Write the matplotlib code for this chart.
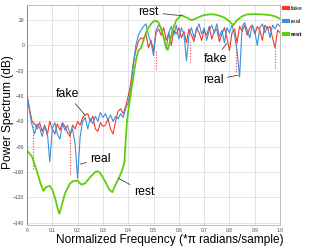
import matplotlib
matplotlib.use("Agg")
import matplotlib.pyplot as plt
import numpy as np

# frequency grid for the fake / real spectra (*pi rad/sample)
freq = np.arange(101) / 100.0

fake_db = [
    -39, -50, -60, -62, -66, -61, -68, -63, -71, -60,
    -66, -70, -62, -67, -61, -64, -69, -72, -63, -66,
    -60, -63, -57, -55, -54, -60, -56, -66, -68, -61,
    -64, -63, -58, -66, -70, -60, -52, -50, -54, -48,
    -40, -30, -14, -4, 3, 6, 5, 9, -2, 4,
    -4, 10, 13, 8, 14, 4, 10, 0, 12, 9,
    14, 6, 11, 2, 13, 8, 3, 14, 10, 4,
    12, 8, 15, 5, 11, 13, 3, 9, 14, 6,
    -4, 10, 13, 2, 15, 11, 16, 8, 14, 16,
    9, 15, 12, 4, 16, 13, 15, 6, -2, 12,
    10,
]

real_db = [
    -39, -52, -63, -70, -62, -65, -72, -64, -68, -92,
    -66, -61, -70, -74, -62, -67, -63, -70, -66, -78,
    -105, -72, -60, -57, -66, -58, -62, -56, -60, -53,
    -57, -54, -59, -55, -60, -56, -58, -54, -57, -50,
    -45, -35, -15, 0, 8, 12, 15, 17, 8, 2,
    -8, 12, 16, 14, 6, -3, 10, 15, 8, 16,
    5, 14, 9, -12, 8, 14, 6, 12, 17, 9,
    14, 4, 12, 16, 10, 17, 7, 12, 2, 14,
    10, 16, 8, -4, -25, 15, 18, 12, 6, 16,
    11, 0, 14, 17, 10, 15, 6, 16, 13, 17,
    15,
]

# deep nulls of the fake spectrum (drawn dotted)
null_x = [0.022, 0.168, 0.511, 0.645, 0.827, 0.979]
null_hi = [-62, -72, -4, 3, 2, -2]
null_lo = [-98, -102, -19, -13, -21, -18]

rest_x = [0, 0.02, 0.04, 0.055, 0.065, 0.075, 0.09, 0.10, 0.11, 0.12,
          0.128, 0.135, 0.15, 0.17, 0.185, 0.20, 0.215, 0.23, 0.25, 0.27,
          0.28, 0.29, 0.31, 0.325, 0.337, 0.35, 0.365, 0.375, 0.38, 0.385,
          0.39, 0.395, 0.40, 0.41, 0.42, 0.43, 0.44, 0.45, 0.46, 0.47,
          0.48, 0.49, 0.50, 0.51, 0.52, 0.53, 0.54, 0.55, 0.556, 0.565,
          0.575, 0.59, 0.61, 0.63, 0.65, 0.665, 0.68, 0.70, 0.72, 0.74,
          0.76, 0.78, 0.80, 0.815, 0.83, 0.85, 0.87, 0.90, 0.93, 0.96,
          0.98, 1.00]
rest_db = [-83, -88, -100, -110, -115, -112, -111, -114, -120, -128,
           -133, -128, -117, -109, -107, -107, -110, -109, -104, -100,
           -99.5, -101, -108, -114, -116, -110, -104, -99, -96, -92,
           -75, -60, -52, -38, -25, -12, -4, -2, 4, 10,
           14, 17, 19, 19.5, 18, 13, 6, -1, -3.5, 3,
           12, 20, 24, 22, 20, 21, 22.5, 24, 24.5, 24.5,
           23.5, 22, 19, 16, 20, 23, 24.5, 24.7, 24.5, 24,
           23, 21]

x_ticks = [0, 0.1, 0.2, 0.3, 0.4, 0.5, 0.6, 0.7, 0.8, 0.9, 1.0]
x_labels = ["0", "0.1", "0.2", "0.3", "0.4", "0.5", "0.6", "0.7", "0.8", "0.9", "1.0"]
y_ticks = [20, 0, -20, -40, -60, -80, -100, -120, -140]

RED = "#f5372a"
BLUE = "#3d8fd9"
GREEN = "#62cc0c"


def main():
    plt.rcParams["font.family"] = ["Liberation Sans", "DejaVu Sans"]
    fig = plt.figure(figsize=(3.14, 2.46), dpi=100)
    ax = fig.add_axes([0.086, 0.085, 0.806, 0.895])

    ax.plot(freq, fake_db, color=RED, lw=0.8, label="fake")
    ax.vlines(null_x, null_lo, null_hi, colors=RED, lw=0.8, linestyles=(0, (1, 1.5)))
    ax.plot(freq, real_db, color=BLUE, lw=0.8, label="real")
    ax.plot(rest_x, rest_db, color=GREEN, lw=1.3, label="rest")

    ax.set_xlim(0, 1.0)
    ax.set_ylim(-142, 32)
    ax.set_xticks(x_ticks)
    ax.set_xticklabels(x_labels)
    ax.set_yticks(y_ticks)
    ax.tick_params(labelsize=3.5, colors="#444444", length=0, pad=2)
    ax.grid(color="#dedede", lw=0.6)
    ax.set_axisbelow(True)
    for s in ax.spines.values():
        s.set_color("#bbbbbb")
        s.set_linewidth(0.7)
    ax.spines["left"].set_color("#888888")

    arrow = dict(arrowstyle="-", color="#444444", lw=0.6, shrinkA=1, shrinkB=0)
    notes = [
        ("rest", (0.61, 23.5), (0.481, 26.2)),
        ("fake", (0.229, -55), (0.158, -38.3)),
        ("real", (0.21, -93.8), (0.292, -89.8)),
        ("rest", (0.361, -105), (0.463, -116)),
        ("fake", (0.789, 1.6), (0.743, -11)),
        ("real", (0.835, -23.5), (0.735, -27.4)),
    ]
    for txt, xy, xytext in notes:
        ax.annotate(txt, xy=xy, xytext=xytext, fontsize=8.8, ha="center", va="center",
                    arrowprops=arrow)

    leg = fig.legend(handles=list(ax.get_lines()),
                     loc="upper left", bbox_to_anchor=(0.897, 0.985), frameon=False,
                     fontsize=4.5, handlelength=0.6, handleheight=0.6, handletextpad=0.5,
                     labelspacing=1.2, borderaxespad=0)
    for h in leg.legend_handles:
        h.set_linewidth(3)
    leg.get_texts()[2].set_fontweight("bold")

    fig.text(0.026, 0.545, "Power Spectrum (dB)", rotation=90, fontsize=8.6,
             ha="center", va="center")
    fig.text(0.541, 0.025, "Normalized Frequency (*\u03c0 radians/sample)", fontsize=8.6,
             ha="center", va="center")

    fig.savefig("out.png", dpi=100)


if __name__ == "__main__":
    main()
